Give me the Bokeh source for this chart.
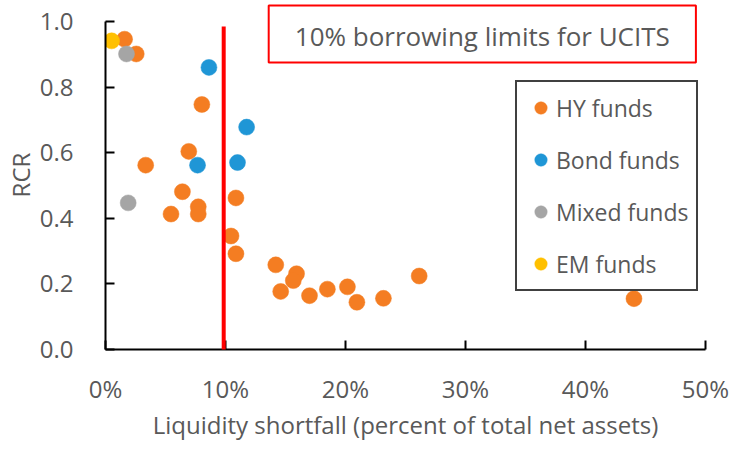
from bokeh.plotting import figure
from bokeh.models import Range1d, FixedTicker, BoxAnnotation, Label
from bokeh.embed import file_html
from bokeh.resources import INLINE

# ---- data (x: liquidity shortfall, % of total net assets; y: RCR) ----
hy_x = [1.59, 2.56, 8.03, 6.94, 3.35, 6.41, 5.46, 7.73, 7.73, 10.87, 10.46, 10.87,
        14.19, 15.92, 15.65, 14.60, 17.00, 18.49, 20.16, 20.95, 23.16, 26.14, 44.04]
hy_y = [0.946, 0.901, 0.747, 0.604, 0.562, 0.481, 0.413, 0.435, 0.413, 0.462, 0.346, 0.292,
        0.258, 0.231, 0.210, 0.177, 0.164, 0.184, 0.191, 0.144, 0.156, 0.224, 0.155]

bond_x = [8.62, 11.76, 11.00, 7.67]
bond_y = [0.860, 0.678, 0.570, 0.562]

mixed_x = [1.75, 1.89]
mixed_y = [0.901, 0.447]

em_x = [0.51]
em_y = [0.941]

series_names = ["HY funds", "Bond funds", "Mixed funds", "EM funds"]
series_colors = ["#F47D22", "#1F96D6", "#A5A5A5", "#FFC000"]

x_ticks = [0, 10, 20, 30, 40, 50]
x_tick_labels = ["0%", "10%", "20%", "30%", "40%", "50%"]
y_ticks = [0.0, 0.2, 0.4, 0.6, 0.8, 1.0]
y_tick_labels = ["0.0", "0.2", "0.4", "0.6", "0.8", "1.0"]

x_title = "Liquidity shortfall (percent of total net assets)"
y_title = "RCR"
note_text = "10% borrowing limits for UCITS"

borrowing_limit = 9.85        # 10% borrowing limit line position on the chart
limit_line_top = 0.985

FONT = "Open Sans"
GREY = "#595959"

p = figure(width=730, height=443, output_backend="svg", toolbar_location=None,
           x_range=Range1d(0, 50), y_range=Range1d(0, 1.064),
           min_border_left=103, min_border_right=25, min_border_top=0,
           min_border_bottom=93,
           x_axis_label=x_title, y_axis_label=y_title)
p.grid.visible = False
p.outline_line_color = None
p.background_fill_color = "white"
p.border_fill_color = "white"

p.xaxis.ticker = FixedTicker(ticks=x_ticks)
p.xaxis.major_label_overrides = {t: l for t, l in zip(x_ticks, x_tick_labels)}
p.yaxis.ticker = FixedTicker(ticks=y_ticks)
p.yaxis.major_label_overrides = {t: l for t, l in zip(y_ticks, y_tick_labels)}
p.yaxis.bounds = (0, 1)

for ax in (p.xaxis[0], p.yaxis[0]):
    ax.axis_line_color = "black"
    ax.axis_line_width = 2
    ax.major_tick_line_color = "black"
    ax.major_tick_line_width = 2
    ax.major_tick_in = 9
    ax.major_tick_out = 0
    ax.minor_tick_line_color = None
    ax.major_label_text_font = FONT
    ax.major_label_text_font_size = "24px"
    ax.major_label_text_color = GREY
    ax.axis_label_text_font = FONT
    ax.axis_label_text_font_size = "24px"
    ax.axis_label_text_font_style = "normal"
    ax.axis_label_text_color = GREY

p.xaxis.major_label_standoff = 22
p.xaxis.axis_label_standoff = 0
p.yaxis.major_label_standoff = 32
p.yaxis.axis_label_standoff = 0

# red limit line
lim = p.segment(x0=[borrowing_limit], y0=[0], x1=[borrowing_limit], y1=[limit_line_top],
                line_color="#FF0000", line_width=4)
lim.level = "overlay"

# scatter series
for xs, ys, name, col in zip([hy_x, bond_x, mixed_x, em_x],
                             [hy_y, bond_y, mixed_y, em_y],
                             series_names, series_colors):
    p.scatter(xs, ys, size=16, fill_color=col, line_color=col, line_alpha=0.5,
              line_width=1, legend_label=name)

leg = p.legend[0]
leg.location = (410, 58)
leg.margin = 0
leg.padding = 8
leg.spacing = 17
leg.glyph_width = 31
leg.glyph_height = 35
leg.label_standoff = 0
leg.label_text_font = FONT
leg.label_text_font_size = "23px"
leg.label_text_color = GREY
leg.border_line_color = "#404040"
leg.border_line_alpha = 1.0
leg.border_line_width = 2
leg.background_fill_color = "white"
leg.background_fill_alpha = 1.0

# annotation box
box = BoxAnnotation(left=13.6, right=49.2, top=1.049, bottom=0.875,
                    fill_alpha=0, line_color="#FF0000", line_alpha=1.0, line_width=2)
p.add_layout(box)
p.add_layout(Label(x=31.4, y=0.957, text=note_text, text_align="center",
                   text_baseline="middle", text_font=FONT, text_font_size="26px",
                   text_color=GREY))

open("out.html", "w").write(file_html(p, INLINE))
